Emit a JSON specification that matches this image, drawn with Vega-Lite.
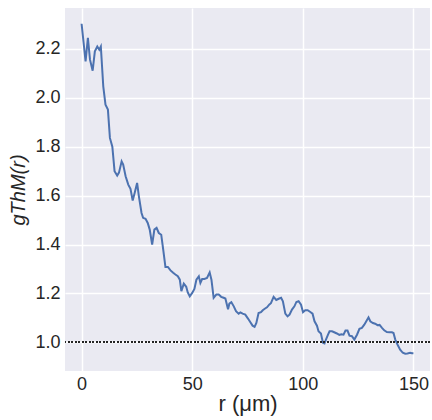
{
  "$schema": "https://vega.github.io/schema/vega-lite/v6.json",
  "width": 365,
  "height": 363,
  "autosize": {"type": "none"},
  "padding": {"left": 65, "top": 8, "right": 2, "bottom": 49},
  "background": "white",
  "config": {
    "view": {"fill": "#EAEAF2", "stroke": null},
    "font": "Liberation Sans",
    "axis": {
      "domain": false,
      "ticks": false,
      "grid": true,
      "gridColor": "white",
      "gridWidth": 1.5,
      "labelColor": "#262626",
      "titleColor": "#262626",
      "labelFont": "Liberation Sans",
      "titleFont": "Liberation Sans",
      "labelFontSize": 18,
      "titleFontSize": 22,
      "titleFontWeight": "normal"
    }
  },
  "data": {
    "values": [
      {"r": 0, "g": 2.303}, {"r": 1.8, "g": 2.149}, {"r": 2.85, "g": 2.245}, {"r": 3.8, "g": 2.156},
      {"r": 5, "g": 2.111}, {"r": 6, "g": 2.19}, {"r": 7.1, "g": 2.21}, {"r": 8, "g": 2.197},
      {"r": 8.7, "g": 2.21}, {"r": 9.8, "g": 2.047}, {"r": 10.8, "g": 1.972}, {"r": 11.9, "g": 1.952},
      {"r": 12.8, "g": 1.836}, {"r": 13.9, "g": 1.8}, {"r": 14.9, "g": 1.7}, {"r": 16.1, "g": 1.682},
      {"r": 16.9, "g": 1.694}, {"r": 18.1, "g": 1.74}, {"r": 18.8, "g": 1.727}, {"r": 19.9, "g": 1.679},
      {"r": 21.1, "g": 1.645}, {"r": 22.1, "g": 1.628}, {"r": 23.1, "g": 1.58}, {"r": 24.1, "g": 1.615},
      {"r": 25.1, "g": 1.652}, {"r": 25.9, "g": 1.597}, {"r": 27.1, "g": 1.529}, {"r": 27.8, "g": 1.509},
      {"r": 28.9, "g": 1.505}, {"r": 29.9, "g": 1.488}, {"r": 30.8, "g": 1.461}, {"r": 31.9, "g": 1.4},
      {"r": 32.9, "g": 1.461}, {"r": 33.9, "g": 1.468}, {"r": 34.9, "g": 1.447}, {"r": 36, "g": 1.44},
      {"r": 36.9, "g": 1.379}, {"r": 37.9, "g": 1.308}, {"r": 39, "g": 1.308}, {"r": 40.2, "g": 1.294},
      {"r": 41.4, "g": 1.284}, {"r": 42.4, "g": 1.277}, {"r": 43.5, "g": 1.27}, {"r": 44.4, "g": 1.256},
      {"r": 45.1, "g": 1.209}, {"r": 46.2, "g": 1.24}, {"r": 47.3, "g": 1.227}, {"r": 48, "g": 1.204},
      {"r": 48.9, "g": 1.188}, {"r": 50, "g": 1.202}, {"r": 51, "g": 1.218}, {"r": 51.9, "g": 1.256},
      {"r": 53, "g": 1.27}, {"r": 53.7, "g": 1.243}, {"r": 54.5, "g": 1.259}, {"r": 55.5, "g": 1.259},
      {"r": 56.7, "g": 1.263}, {"r": 57.9, "g": 1.286}, {"r": 58.7, "g": 1.256}, {"r": 59.7, "g": 1.182},
      {"r": 60.9, "g": 1.195}, {"r": 62, "g": 1.195}, {"r": 63.1, "g": 1.186}, {"r": 64.2, "g": 1.182},
      {"r": 65, "g": 1.179}, {"r": 66.2, "g": 1.135}, {"r": 66.8, "g": 1.158}, {"r": 67.7, "g": 1.164},
      {"r": 68.8, "g": 1.147}, {"r": 69.8, "g": 1.127}, {"r": 71, "g": 1.117}, {"r": 71.8, "g": 1.122},
      {"r": 72.8, "g": 1.117}, {"r": 74, "g": 1.113}, {"r": 75.3, "g": 1.096}, {"r": 76.3, "g": 1.082},
      {"r": 77.3, "g": 1.068}, {"r": 78.2, "g": 1.063}, {"r": 79, "g": 1.079}, {"r": 80, "g": 1.12},
      {"r": 81.1, "g": 1.123}, {"r": 81.9, "g": 1.131}, {"r": 82.8, "g": 1.137}, {"r": 83.8, "g": 1.143},
      {"r": 84.9, "g": 1.155}, {"r": 85.6, "g": 1.16}, {"r": 86.8, "g": 1.186}, {"r": 88, "g": 1.173},
      {"r": 89.1, "g": 1.178}, {"r": 90.2, "g": 1.182}, {"r": 91, "g": 1.168}, {"r": 92.1, "g": 1.117},
      {"r": 93.1, "g": 1.106}, {"r": 94, "g": 1.113}, {"r": 95.1, "g": 1.134}, {"r": 96.2, "g": 1.147},
      {"r": 97.1, "g": 1.165}, {"r": 98.1, "g": 1.168}, {"r": 99.2, "g": 1.154}, {"r": 100.1, "g": 1.123},
      {"r": 101.1, "g": 1.131}, {"r": 102.2, "g": 1.131}, {"r": 103.4, "g": 1.124}, {"r": 104.4, "g": 1.117},
      {"r": 105.3, "g": 1.086}, {"r": 106.4, "g": 1.068}, {"r": 107.1, "g": 1.045}, {"r": 108.2, "g": 1.036},
      {"r": 109.1, "g": 0.998}, {"r": 109.8, "g": 0.995}, {"r": 110.6, "g": 1.014}, {"r": 111.4, "g": 1.031},
      {"r": 112.1, "g": 1.045}, {"r": 113.2, "g": 1.045}, {"r": 114.2, "g": 1.041}, {"r": 115.4, "g": 1.036},
      {"r": 116.5, "g": 1.03}, {"r": 117.4, "g": 1.033}, {"r": 118.4, "g": 1.031}, {"r": 119.3, "g": 1.048},
      {"r": 120.2, "g": 1.048}, {"r": 121.1, "g": 1.027}, {"r": 122.2, "g": 1.025}, {"r": 123.3, "g": 1.011},
      {"r": 124.5, "g": 1.031}, {"r": 125.6, "g": 1.055}, {"r": 126.7, "g": 1.059}, {"r": 127.8, "g": 1.072},
      {"r": 128.7, "g": 1.086}, {"r": 129.7, "g": 1.102}, {"r": 130.5, "g": 1.086}, {"r": 131.7, "g": 1.079},
      {"r": 132.7, "g": 1.076}, {"r": 133.8, "g": 1.07}, {"r": 134.7, "g": 1.071}, {"r": 135.8, "g": 1.059},
      {"r": 136.8, "g": 1.049}, {"r": 138, "g": 1.042}, {"r": 139.2, "g": 1.041}, {"r": 140.3, "g": 1.041},
      {"r": 141, "g": 1.038}, {"r": 141.8, "g": 1.011}, {"r": 142.8, "g": 0.991}, {"r": 144, "g": 0.97},
      {"r": 145.2, "g": 0.957}, {"r": 146.3, "g": 0.953}, {"r": 147.3, "g": 0.954}, {"r": 148.5, "g": 0.957},
      {"r": 149.3, "g": 0.955}, {"r": 150, "g": 0.955}
    ]
  },
  "layer": [
    {
      "mark": {"type": "line", "color": "#4C72B0", "strokeWidth": 2, "clip": true},
      "encoding": {
        "x": {
          "field": "r", "type": "quantitative",
          "scale": {"domain": [-7.5, 157.5], "nice": false, "zero": false},
          "axis": {"values": [0, 50, 100, 150], "title": "r (μm)", "labelPadding": 4, "titlePadding": 0}
        },
        "y": {
          "field": "g", "type": "quantitative",
          "scale": {"domain": [0.8825, 2.3675], "nice": false, "zero": false},
          "axis": {"values": [1.0, 1.2, 1.4, 1.6, 1.8, 2.0, 2.2], "format": ".1f", "title": "gThM(r)", "titleFontStyle": "italic", "titleFontSize": 20, "labelPadding": 5, "titlePadding": 6}
        }
      }
    },
    {
      "mark": {"type": "rule", "color": "#262626", "strokeWidth": 1.2, "strokeDash": [1.2, 2.3]},
      "encoding": {"y": {"datum": 1.0}}
    }
  ]
}
